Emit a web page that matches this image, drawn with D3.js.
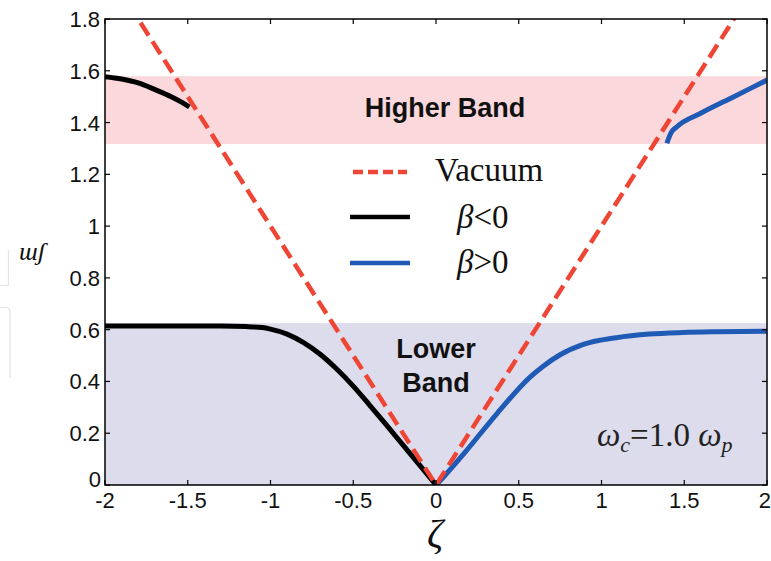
<!DOCTYPE html>
<html>
<head>
<meta charset="utf-8">
<script src="https://cdn.jsdelivr.net/npm/d3@7"></script>
<style>
  html, body { margin: 0; padding: 0; background: #fff; }
  svg { display: block; }
</style>
</head>
<body>
<svg id="chart" width="771" height="561"></svg>
<script>
// Dispersion curves: normalised frequency ω versus propagation constant ζ
const xTicks = [-2, -1.5, -1, -0.5, 0, 0.5, 1, 1.5, 2];
const xTickLabels = ["-2", "-1.5", "-1", "-0.5", "0", "0.5", "1", "1.5", "2"];
const yTicks = [0, 0.2, 0.4, 0.6, 0.8, 1, 1.2, 1.4, 1.6, 1.8];
const yTickLabels = ["0", "0.2", "0.4", "0.6", "0.8", "1", "1.2", "1.4", "1.6", "1.8"];

// Band edges (ω)
const higherBand = [1.317, 1.579];
const lowerBand = [0, 0.625];

// Vacuum light line
const vacuumZeta = [-2, 0, 2];
const vacuumOmega = [2, 0, 2];

// β<0 branches
const negLowZeta = [-2, -1.6, -1.3, -1.15, -1.05, -1.0, -0.9, -0.8, -0.7, -0.6, -0.5, -0.4, -0.3, -0.2, -0.1, 0];
const negLowOmega = [0.614, 0.614, 0.614, 0.612, 0.608, 0.602, 0.583, 0.55, 0.505, 0.448, 0.382, 0.308, 0.232, 0.155, 0.078, 0];
const negHighZeta = [-2, -1.9, -1.8, -1.7, -1.6, -1.54, -1.49];
const negHighOmega = [1.577, 1.568, 1.553, 1.528, 1.5, 1.48, 1.46];

// β>0 branches
const posLowZeta = [0, 0.05, 0.17, 0.37, 0.57, 0.65, 0.75, 0.89, 1.09, 1.29, 1.49, 1.7, 2.0];
const posLowOmega = [0, 0.034, 0.122, 0.277, 0.418, 0.46, 0.503, 0.543, 0.569, 0.583, 0.589, 0.592, 0.594];
const posHighZeta = [1.395, 1.42, 1.454, 1.6, 1.8, 2.0];
const posHighOmega = [1.32, 1.36, 1.383, 1.436, 1.5, 1.564];

const zip = (xs, ys) => xs.map((x, i) => [x, ys[i]]);

const svg = d3.select("#chart");
const plotLeft = 105, plotRight = 767, plotTop = 19, plotBottom = 485;

const x = d3.scaleLinear().domain([-2, 2]).range([plotLeft, plotRight]);
const y = d3.scaleLinear().domain([0, 1.8]).range([plotBottom, plotTop]);

const red = "#ee4535", blue = "#1f5ab4", lavender = "#dcdcec", pink = "#fad8dc";

svg.append("defs").append("clipPath").attr("id", "plotClip")
  .append("rect").attr("x", plotLeft).attr("y", plotTop)
  .attr("width", plotRight - plotLeft).attr("height", plotBottom - plotTop);

// faint frame fragments at the far left
svg.append("path").attr("d", "M0,285.5 H8.5 V250").attr("fill", "none").attr("stroke", "#e3e3e3").attr("stroke-width", 1.2);
svg.append("path").attr("d", "M0,307.5 H6 Q10,307.5 10,312 V378").attr("fill", "none").attr("stroke", "#e3e3e3").attr("stroke-width", 1.2);

const plot = svg.append("g").attr("clip-path", "url(#plotClip)");

// frequency bands
plot.append("rect")
  .attr("x", x(-2)).attr("width", x(2) - x(-2))
  .attr("y", y(higherBand[1])).attr("height", y(higherBand[0]) - y(higherBand[1]))
  .attr("fill", pink);
plot.append("rect")
  .attr("x", x(-2)).attr("width", x(2) - x(-2))
  .attr("y", y(lowerBand[1])).attr("height", y(lowerBand[0]) - y(lowerBand[1]))
  .attr("fill", lavender);

const line = d3.line().x(d => x(d[0])).y(d => y(d[1]));
const smooth = d3.line().x(d => x(d[0])).y(d => y(d[1])).curve(d3.curveMonotoneX);

function addText(g, str, px, py, attrs, anchor) {
  const t = g.append("text").attr("x", px).attr("y", py).attr("text-anchor", anchor || "middle").text(str);
  Object.entries(attrs).forEach(([k, v]) => t.attr(k, v));
  return t;
}

// band labels
const bandText = { "font-family": "Liberation Sans, Arial, sans-serif", "font-weight": "bold", "font-size": 27, "fill": "#111" };
addText(svg, "Higher Band", 445, 117, bandText);
addText(svg, "Lower", 436, 358, bandText);
addText(svg, "Band", 436, 392, bandText);

// dispersion curves
plot.append("path").datum(zip(negLowZeta, negLowOmega)).attr("d", smooth)
  .attr("fill", "none").attr("stroke", "#000").attr("stroke-width", 5);
plot.append("path").datum(zip(negHighZeta, negHighOmega)).attr("d", smooth)
  .attr("fill", "none").attr("stroke", "#000").attr("stroke-width", 5);
plot.append("path").datum(zip(posLowZeta, posLowOmega)).attr("d", smooth)
  .attr("fill", "none").attr("stroke", blue).attr("stroke-width", 5);
plot.append("path").datum(zip(posHighZeta, posHighOmega)).attr("d", smooth)
  .attr("fill", "none").attr("stroke", blue).attr("stroke-width", 5);

// vacuum light line
plot.append("path").datum(zip(vacuumZeta, vacuumOmega)).attr("d", line)
  .attr("fill", "none").attr("stroke", red).attr("stroke-width", 4.5)
  .attr("stroke-dasharray", "15,7");

// frame with inward ticks on all sides
const frame = svg.append("g");
frame.append("rect").attr("x", plotLeft).attr("y", plotTop)
  .attr("width", plotRight - plotLeft).attr("height", plotBottom - plotTop)
  .attr("fill", "none").attr("stroke", "#000").attr("stroke-width", 1.5);

const tickLen = 5;
xTicks.forEach(v => {
  frame.append("line").attr("x1", x(v)).attr("x2", x(v)).attr("y1", plotBottom).attr("y2", plotBottom - tickLen).attr("stroke", "#000").attr("stroke-width", 1.2);
  frame.append("line").attr("x1", x(v)).attr("x2", x(v)).attr("y1", plotTop).attr("y2", plotTop + tickLen).attr("stroke", "#000").attr("stroke-width", 1.2);
});
yTicks.forEach(v => {
  frame.append("line").attr("x1", plotLeft).attr("x2", plotLeft + tickLen).attr("y1", y(v)).attr("y2", y(v)).attr("stroke", "#000").attr("stroke-width", 1.2);
  frame.append("line").attr("x1", plotRight).attr("x2", plotRight - tickLen).attr("y1", y(v)).attr("y2", y(v)).attr("stroke", "#000").attr("stroke-width", 1.2);
});

const tickFont = { "font-family": "Liberation Sans, Arial, sans-serif", "font-size": 22, "fill": "#111" };
xTicks.forEach((v, i) => {
  const last = i === xTicks.length - 1;
  addText(svg, xTickLabels[i], last ? 771 : x(v), 508, tickFont, last ? "end" : "middle");
});
yTicks.forEach((v, i) => {
  const t = addText(svg, yTickLabels[i], v === 0 ? plotLeft - 4 : plotLeft - 5, y(v) + 8, tickFont, "end");
  if (v === 0) t.attr("y", y(v) + 2);
});

// legend
const lg = svg.append("g");
lg.append("line").attr("x1", 353).attr("x2", 407).attr("y1", 172).attr("y2", 172)
  .attr("stroke", red).attr("stroke-width", 4.5).attr("stroke-dasharray", "10,5");
lg.append("line").attr("x1", 350).attr("x2", 410).attr("y1", 217).attr("y2", 217)
  .attr("stroke", "#000").attr("stroke-width", 4.5);
lg.append("line").attr("x1", 350).attr("x2", 410).attr("y1", 263).attr("y2", 263)
  .attr("stroke", blue).attr("stroke-width", 4.5);

const serif = "Liberation Serif, Times New Roman, serif";
addText(lg, "Vacuum", 435, 181, { "font-family": serif, "font-size": 33, "fill": "#111" }, "start");
const b1 = lg.append("text").attr("x", 457).attr("y", 228).attr("font-family", serif).attr("font-size", 33).attr("fill", "#111");
b1.append("tspan").attr("font-style", "italic").text("β");
b1.append("tspan").text("<0");
const b2 = lg.append("text").attr("x", 457).attr("y", 273).attr("font-family", serif).attr("font-size", 33).attr("fill", "#111");
b2.append("tspan").attr("font-style", "italic").text("β");
b2.append("tspan").text(">0");

// parameter annotation
const ann = svg.append("text").attr("x", 597).attr("y", 446).attr("font-family", serif).attr("font-size", 33).attr("fill", "#222");
ann.append("tspan").attr("font-style", "italic").text("ω");
ann.append("tspan").attr("font-style", "italic").attr("font-size", 22).attr("dy", 6).text("c");
ann.append("tspan").attr("dy", -6).text("=1.0 ");
ann.append("tspan").attr("font-style", "italic").text("ω");
ann.append("tspan").attr("font-style", "italic").attr("font-size", 22).attr("dy", 6).text("p");

// axis titles
addText(svg, "ζ", 435, 547, { "font-family": serif, "font-size": 40, "fill": "#111", "font-style": "italic" });
addText(svg, "ɯʃ", 32, 260, { "font-family": serif, "font-size": 26, "fill": "#111", "font-style": "italic" });
</script>
</body>
</html>
